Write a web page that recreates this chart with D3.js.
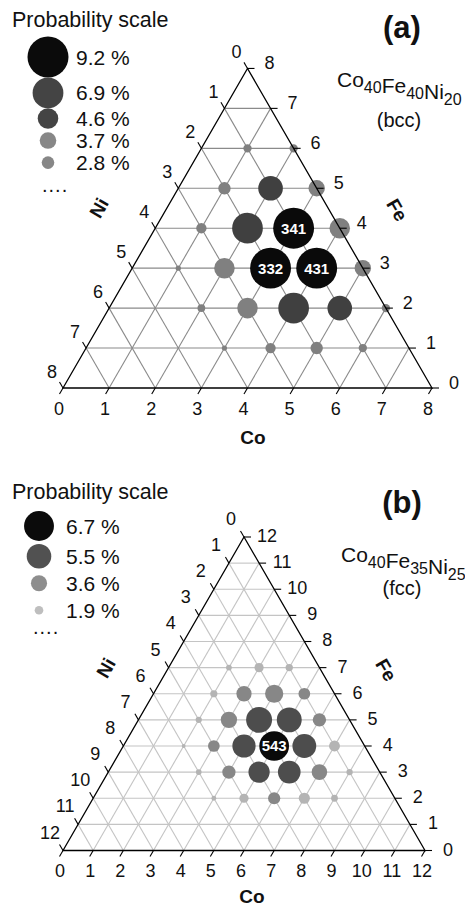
<!DOCTYPE html>
<html><head><meta charset="utf-8">
<script src="https://cdn.jsdelivr.net/npm/d3@7/dist/d3.min.js"></script>
<style>
html,body{margin:0;padding:0;background:#fff;}
svg{display:block;font-family:"Liberation Sans",Arial,Helvetica,sans-serif;}
</style>
</head><body>
<svg id="chart" width="465" height="906"></svg>
<script>
// ---------- Panel (a): Co40Fe40Ni20 (bcc), 8 sites ----------
const ticksA = [0, 1, 2, 3, 4, 5, 6, 7, 8];
const coA   = [3, 3, 4, 2, 4, 2, 5, 2, 3, 4, 3, 5, 1, 5, 1, 4, 1, 6, 2, 6, 2, 1, 3];
const feA   = [4, 3, 3, 4, 2, 5, 2, 3, 2, 4, 5, 3, 5, 1, 4, 1, 6, 1, 6, 2, 2, 3, 1];
const niA   = [1, 2, 1, 2, 2, 1, 1, 3, 3, 0, 0, 0, 2, 2, 3, 3, 1, 1, 0, 0, 4, 4, 4];
const probA = [9.17, 9.17, 9.17, 6.88, 6.88, 5.51, 5.51, 4.59, 4.59, 4.59, 3.67, 3.67,
               2.75, 2.75, 2.29, 2.29, 1.84, 1.84, 1.84, 1.84, 1.72, 1.15, 1.15];
const legendA = [9.2, 6.9, 4.6, 3.7, 2.8];

// ---------- Panel (b): Co40Fe35Ni25 (fcc), 12 sites ----------
const ticksB = [0, 1, 2, 3, 4, 5, 6, 7, 8, 9, 10, 11, 12];
const coB   = [5, 4, 5, 6, 4, 6, 5, 4, 3, 7, 3, 6, 4, 6, 5, 3, 7, 7, 3, 5, 4, 2, 8, 8, 2, 2, 3, 4, 2];
const feB   = [4, 5, 5, 4, 4, 3, 3, 6, 5, 3, 6, 5, 3, 2, 6, 4, 2, 4, 7, 2, 7, 6, 2, 3, 5, 7, 3, 2, 4];
const niB   = [3, 3, 2, 2, 4, 3, 4, 2, 4, 2, 3, 1, 5, 4, 1, 5, 3, 1, 2, 5, 1, 4, 2, 1, 5, 3, 6, 6, 6];
const probB = [6.66, 5.82, 5.59, 5.32, 5.20, 5.07, 4.75, 4.07, 3.64, 3.48, 3.40, 2.98, 2.97,
               2.72, 2.61, 2.60, 2.48, 2.43, 2.04, 2.04, 1.63, 1.59, 1.49, 1.39, 1.37, 1.27,
               1.24, 1.06, 0.81];
const legendB = [6.7, 5.5, 3.6, 1.9];

// ---------- shared scales ----------
const rScale = d3.scaleLinear().domain([1, 9.2]).range([2.3, 20.5]);
const rad = p => Math.max(1.5, rScale(p));
const colorA = d3.scaleThreshold().domain([4.6, 9.0]).range(["#808080", "#404040", "#0a0a0a"]);
const colorB = d3.scaleThreshold().domain([2.5, 4.7, 6.5]).range(["#b4b4b4", "#878787", "#4d4d4d", "#0a0a0a"]);

const svg = d3.select("#chart");

function ternary(o) {
  const n = o.ticks.length - 1;
  const h = o.side * Math.sqrt(3) / 2;
  const xs = d3.scaleLinear().domain([0, n]).range([o.x0, o.x0 + o.side]);
  const ys = d3.scaleLinear().domain([0, n]).range([o.y0, o.y0 - h]);
  const P = (co, fe) => [xs(co + fe / 2), ys(fe)];
  const line = d3.line();
  const g = svg.append("g");

  // grid
  const grid = [];
  for (let k = 1; k < n; k++) {
    grid.push([P(0, k), P(n - k, k)]);      // constant Fe
    grid.push([P(k, 0), P(k, n - k)]);      // constant Co
    grid.push([P(n - k, 0), P(0, n - k)]);  // constant Ni
  }
  g.append("g").selectAll("path").data(grid).join("path")
    .attr("d", line).attr("fill", "none")
    .attr("stroke", o.gridColor).attr("stroke-width", o.gridWidth);

  // points
  const pts = o.co.map((c, i) => ({co: c, fe: o.fe[i], ni: o.ni[i], p: o.prob[i]}));
  g.append("g").selectAll("circle").data(pts).join("circle")
    .attr("cx", d => P(d.co, d.fe)[0]).attr("cy", d => P(d.co, d.fe)[1])
    .attr("r", d => rad(d.p)).attr("fill", d => o.color(d.p));

  // edges
  g.append("path").attr("d", line([P(0, 0), P(n, 0), P(0, n)]) + "Z")
    .attr("fill", "none").attr("stroke", "#000").attr("stroke-width", 1.3);

  // ticks
  const tl = 7, dx = tl * 0.5, dy = tl * Math.sqrt(3) / 2;
  const ticks = [];
  o.ticks.forEach((t, k) => {
    const b = P(k, 0); ticks.push([b, [b[0] - dx, b[1] + dy]]);
    const r = P(n - k, k); ticks.push([r, [r[0] + tl, r[1]]]);
    const l = P(0, n - k); ticks.push([l, [l[0] - dx, l[1] - dy]]);
  });
  g.append("g").selectAll("path").data(ticks).join("path")
    .attr("d", line).attr("stroke", "#000").attr("stroke-width", 1.1);

  // tick labels
  const tg = g.append("g").attr("font-size", o.tickSize).attr("fill", "#111")
    .attr("text-anchor", "middle").attr("dominant-baseline", "central");
  o.ticks.forEach((t, k) => {
    const b = P(k, 0);
    tg.append("text").attr("x", b[0] + o.offB[0]).attr("y", b[1] + o.offB[1]).text(t);
    const r = P(n - k, k);
    tg.append("text").attr("x", r[0] + o.offR[0]).attr("y", r[1] + o.offR[1]).text(t);
    const l = P(0, n - k);
    tg.append("text").attr("x", l[0] + o.offL[0]).attr("y", l[1] + o.offL[1]).text(t);
  });

  // labels on the most probable sites
  g.append("g").selectAll("text").data(pts.filter(d => d.p >= o.labelMin)).join("text")
    .attr("x", d => P(d.co, d.fe)[0]).attr("y", d => P(d.co, d.fe)[1])
    .attr("text-anchor", "middle").attr("dominant-baseline", "central")
    .attr("font-size", 15).attr("font-weight", "bold").attr("fill", "#fff")
    .text(d => `${d.co}${d.fe}${d.ni}`);

  // axis titles
  const at = (txt, x, y, rot) => g.append("text").attr("transform", `translate(${x},${y}) rotate(${rot})`)
    .attr("text-anchor", "middle").attr("dominant-baseline", "central")
    .attr("font-size", 19).attr("font-weight", "bold").attr("fill", "#111").text(txt);
  at("Co", o.coT[0], o.coT[1], 0);
  at("Ni", o.niT[0], o.niT[1], -60);
  at("Fe", o.feT[0], o.feT[1], 60);

  // panel label + composition
  g.append("text").attr("x", o.panel[0]).attr("y", o.panel[1]).attr("text-anchor", "middle")
    .attr("font-size", 31).attr("font-weight", "bold").attr("fill", "#111").text(o.panelText);
  const comp = g.append("text").attr("x", o.comp[0]).attr("y", o.comp[1])
    .attr("font-size", 21).attr("fill", "#111");
  o.compParts.forEach(([el, sub]) => {
    comp.append("tspan").attr("font-size", 21).text(el);
    comp.append("tspan").attr("font-size", 16).attr("dy", 6).text(sub);
    comp.append("tspan").attr("font-size", 21).attr("dy", -6).text("");
  });
  g.append("text").attr("x", o.phase[0]).attr("y", o.phase[1]).attr("text-anchor", "middle")
    .attr("font-size", 20).attr("fill", "#111").text(o.phaseText);
}

function legend(o) {
  const g = svg.append("g");
  g.append("text").attr("x", o.x).attr("y", o.titleY).attr("font-size", 21.5).attr("fill", "#111")
    .text("Probability scale");
  let y = o.y;
  const ys = [];
  o.values.forEach((v, i) => {
    if (i > 0) y += Math.max(rad(o.values[i - 1]) + rad(v) + o.gap, o.minStep);
    ys.push(y);
  });
  g.selectAll("circle").data(o.values).join("circle")
    .attr("cx", o.cx).attr("cy", (d, i) => ys[i]).attr("r", d => rad(d))
    .attr("fill", d => d3.color(o.color(d)).brighter(0.15));
  g.selectAll("text.lv").data(o.values).join("text").attr("class", "lv")
    .attr("x", o.tx).attr("y", (d, i) => ys[i]).attr("dy", "0.36em")
    .attr("font-size", 21).attr("fill", "#111").text(d => d.toFixed(1) + " %");
  g.append("text").attr("x", o.cx - 6).attr("y", ys[ys.length - 1] + o.dotsDy)
    .attr("font-size", 20).attr("fill", "#111").attr("letter-spacing", 1).text("....");
}

ternary({
  ticks: ticksA, co: coA, fe: feA, ni: niA, prob: probA, color: colorA,
  x0: 63, y0: 388, side: 369, gridColor: "#8a8a8a", gridWidth: 1.1,
  tickSize: 18, offB: [-4, 21], offR: [22, -5], offL: [-11, -16],
  labelMin: 9, coT: [253, 437], niT: [99, 208], feT: [397, 210],
  panel: [402, 38], panelText: "(a)",
  comp: [337, 87], compParts: [["Co", "40"], ["Fe", "40"], ["Ni", "20"]],
  phase: [399, 127], phaseText: "(bcc)"
});
legend({values: legendA, color: colorA, x: 12, titleY: 27, cx: 48, y: 57, gap: 0, minStep: 22,
        tx: 76, dotsDy: 29});

ternary({
  ticks: ticksB, co: coB, fe: feB, ni: niB, prob: probB, color: colorB,
  x0: 63, y0: 850.5, side: 362, gridColor: "#c4c4c4", gridWidth: 1.1,
  tickSize: 18, offB: [-3, 20], offR: [23, -1], offL: [-13, -18],
  labelMin: 6.5, coT: [252, 896], niT: [106, 668], feT: [386, 670],
  panel: [402, 513], panelText: "(b)",
  comp: [341, 562], compParts: [["Co", "40"], ["Fe", "35"], ["Ni", "25"]],
  phase: [402, 595], phaseText: "(fcc)"
});
legend({values: legendB, color: colorB, x: 12, titleY: 499, cx: 39, y: 526, gap: 3, minStep: 27,
        tx: 66, dotsDy: 24});
</script>
</body></html>
